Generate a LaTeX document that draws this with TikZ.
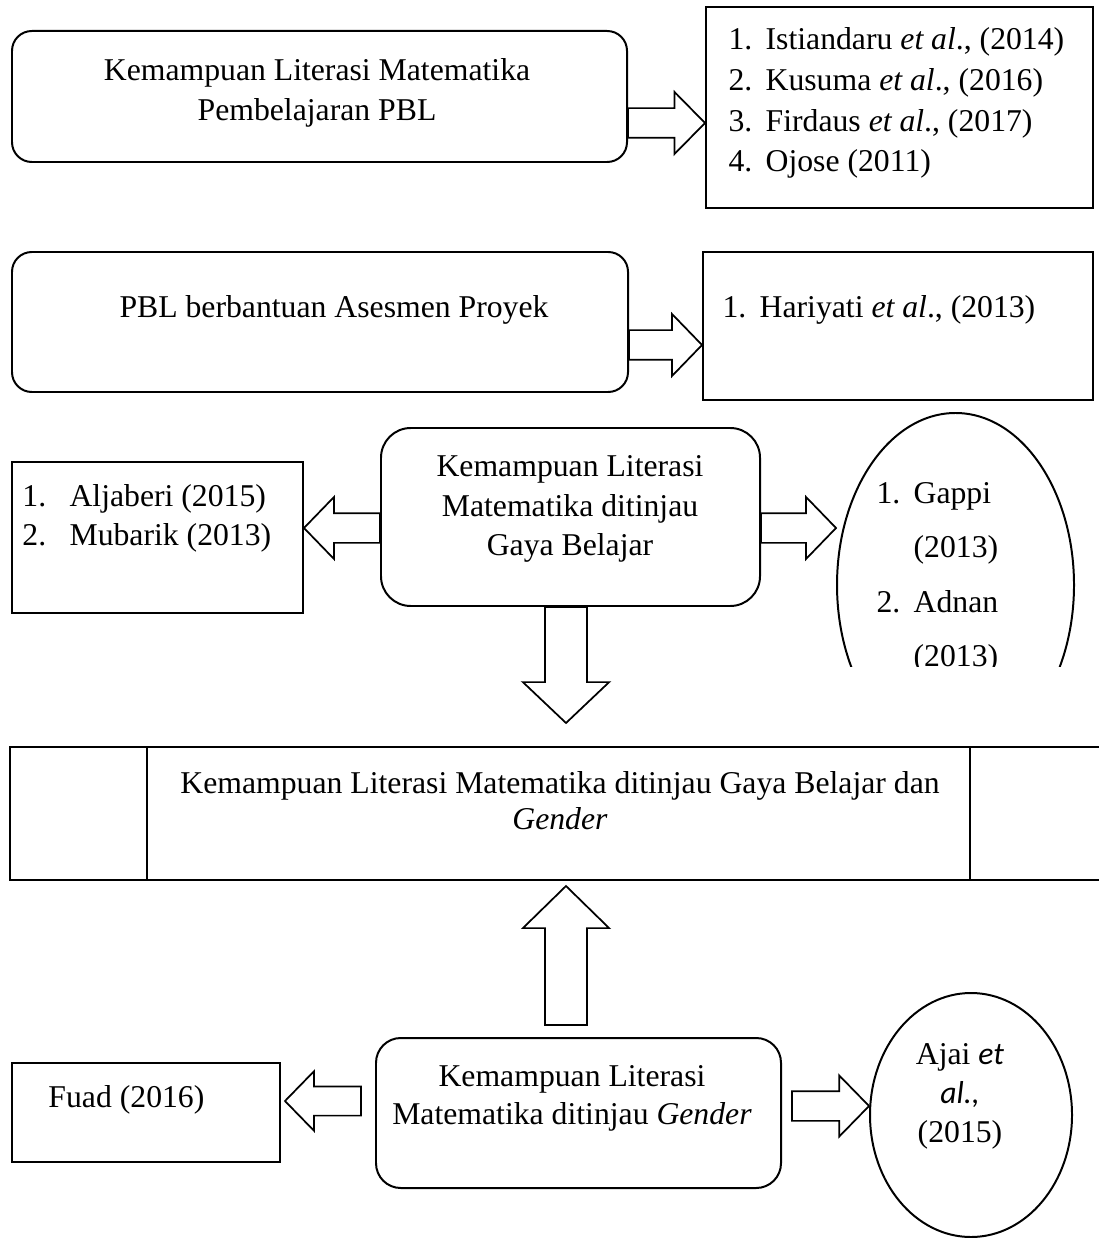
\documentclass[tikz,border=0pt]{standalone}
\usepackage{fontspec}
\setmainfont{Liberation Serif}
\newfontfamily\calibri{Carlito}
\usetikzlibrary{shapes.geometric,calc,positioning}

\def\pxu{0.4036pt}
\newcommand{\numbox}[2][15pt]{\makebox[#1][l]{#2}}

\begin{document}
\begin{tikzpicture}[
    x=0.4036pt, y=-0.4036pt,
    font=\fontsize{12.8}{15}\selectfont,
    every node/.style={inner sep=0pt},
    rbox/.style={draw,line width=0.8pt,rounded corners=8pt},
    sbox/.style={draw,line width=0.8pt},
    oval/.style={draw,line width=0.8pt,ellipse},
    txt/.style={align=center},
    lst/.style={align=left,anchor=west},
    blockarr/.style n args={3}{draw,line width=0.7pt,fill=white,
      to path={let \p1=(\tikztostart), \p2=(\tikztotarget), \p3=($(\p2)!#3!(\p1)$) in
        ($(\p1)!#1!90:(\p2)$) -- ($(\p3)!#1!90:(\p2)$) -- ($(\p3)!#2!90:(\p2)$) -- (\p2)
        -- ($(\p3)!#2!-90:(\p2)$) -- ($(\p3)!#1!-90:(\p2)$) -- ($(\p1)!#1!-90:(\p2)$) -- cycle}}
]
    \useasboundingbox (0,0) rectangle (1099,1238);

    % top row
    \node[rbox,minimum width=615*\pxu,minimum height=131*\pxu] (klp) at (319.5,96.5) {};
    \node[txt,font=\fontsize{12.8}{15.9}\selectfont] (klpt) at (317,93) {Kemampuan Literasi Matematika\\Pembelajaran PBL};
    \node[sbox,minimum width=387*\pxu,minimum height=201*\pxu] (ref1) at (899.5,107.5) {};
    \node[lst,font=\fontsize{12.8}{16.5}\selectfont] (ref1t) at (728,103) {\numbox{1.}Istiandaru \textit{et al}., (2014)\\\numbox{2.}Kusuma \textit{et al}., (2016)\\\numbox{3.}Firdaus \textit{et al}., (2017)\\\numbox{4.}Ojose (2011)};
    \draw[blockarr={6pt}{12.5pt}{12.3pt}] (klp.east |- 0,123) to (ref1.west |- 0,123);

    % second row
    \node[rbox,minimum width=616*\pxu,minimum height=140*\pxu] (pbl) at (320,322) {};
    \node (pblt) at (334,310) {PBL berbantuan Asesmen Proyek};
    \node[sbox,minimum width=390*\pxu,minimum height=148*\pxu] (ref2) at (898,326) {};
    \node[lst] (ref2t) at (722,310) {\numbox{1.}Hariyati \textit{et al}., (2013)};
    \draw[blockarr={6pt}{12.5pt}{12.1pt}] (pbl.east |- 0,345) to (ref2.west |- 0,345);

    % gaya belajar
    \node[sbox,minimum width=291*\pxu,minimum height=151*\pxu] (ref3) at (157.5,537.5) {};
    \node[lst,font=\fontsize{12.8}{15.7}\selectfont] (ref3t) at (22,518) {\numbox[19pt]{1.}Aljaberi (2015)\\\numbox[19pt]{2.}Mubarik (2013)};
    \node[rbox,rounded corners=12pt,minimum width=379*\pxu,minimum height=178*\pxu] (klg) at (570.5,517) {};
    \node[txt,font=\fontsize{12.8}{15.9}\selectfont] (klgt) at (570,509) {Kemampuan Literasi\\Matematika ditinjau\\Gaya Belajar};
    \begin{scope}
      \clip (780,380) rectangle (1099,666);
      \node[oval,minimum width=237*\pxu,minimum height=344*\pxu] (ref4) at (955.5,585) {};
      \node[lst,font=\fontsize{12.8}{22}\selectfont] (ref4t) at (876,578) {\numbox{1.}Gappi\\\numbox{}(2013)\\\numbox{2.}Adnan\\\numbox{}(2013)};
    \end{scope}
    \draw[blockarr={6pt}{12.5pt}{12.1pt}] (klg.west |- 0,528) to (ref3.east |- 0,528);
    \draw[blockarr={6pt}{12.5pt}{12.1pt}] (klg.east |- 0,528) to (ref4.west |- 0,528);
    \coordinate (dtip) at (566,723);
    \draw[blockarr={8.5pt}{17.4pt}{16.5pt}] (klg.south -| dtip) to (dtip);

    % gaya belajar dan gender
    \node[sbox,minimum width=1100*\pxu,minimum height=133*\pxu] (klgg) at (560,813.5) {};
    \draw[line width=0.8pt] (klgg.north -| 147,0) -- (klgg.south -| 147,0);
    \draw[line width=0.8pt] (klgg.north -| 970,0) -- (klgg.south -| 970,0);
    \node[txt,font=\fontsize{12.8}{14.5}\selectfont] (klggt) at (560,801) {Kemampuan Literasi Matematika ditinjau Gaya Belajar dan\\\textit{Gender}};

    % gender
    \node[sbox,minimum width=268*\pxu,minimum height=99*\pxu] (ref5) at (146,1112.5) {};
    \node[anchor=west] (ref5t) at (48,1100) {Fuad (2016)};
    \node[rbox,rounded corners=10pt,minimum width=405*\pxu,minimum height=150*\pxu] (klgd) at (578.5,1113) {};
    \node[txt,font=\fontsize{12.8}{15.3}\selectfont] (klgdt) at (572,1098) {Kemampuan Literasi\\Matematika ditinjau \textit{Gender}};
    \node[oval,minimum width=202*\pxu,minimum height=244*\pxu] (ref6) at (971,1115) {};
    \node[txt,font=\fontsize{12.8}{15.7}\selectfont] (ref6t) at (960,1096) {Ajai {\calibri\itshape et}\\{\calibri\itshape al.,}\\(2015)};
    \coordinate (utail) at (566,1025);
    \coordinate (utip) at (566,886);
    \draw[blockarr={8.5pt}{17.4pt}{17pt}] (utail) to (utip);
    \draw[blockarr={5.9pt}{12pt}{11.7pt}] ([shift={(-14,-12)}]klgd.west) to ([shift={(4,-11.5)}]ref5.east);
    \draw[blockarr={6pt}{12.3pt}{12pt}] ([shift={(10,-7)}]klgd.east) to (ref6.west |- 0,1106);
\end{tikzpicture}
\end{document}
